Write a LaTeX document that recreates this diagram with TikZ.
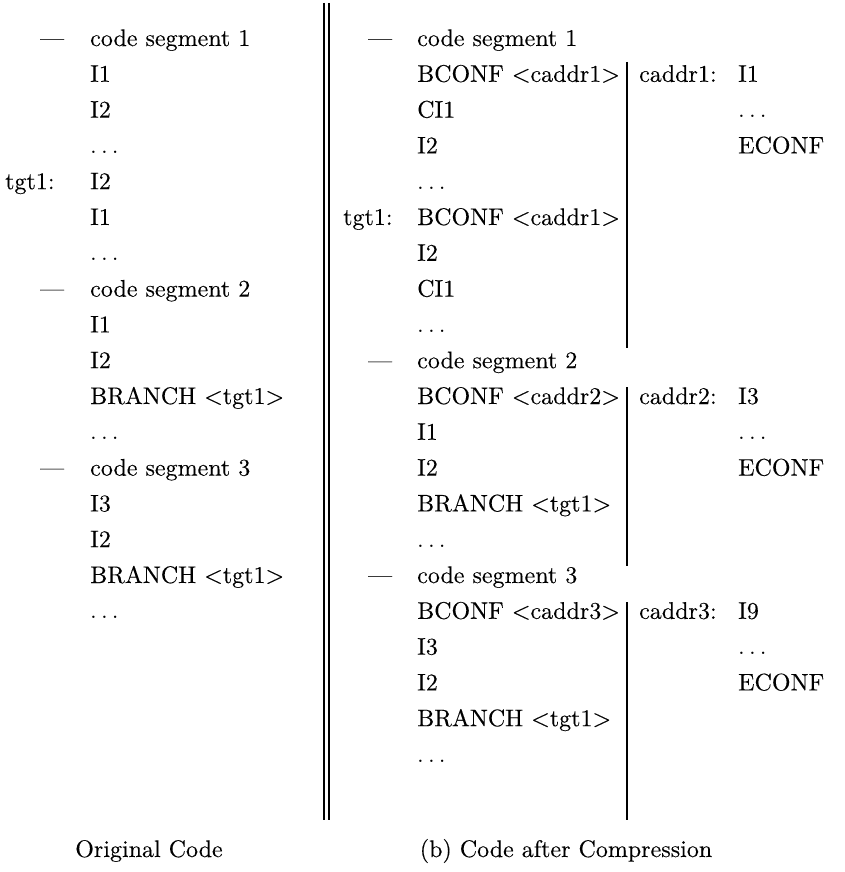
\documentclass[tikz,border=0pt]{standalone}
\usepackage{fontspec}
\setmainfont{lmroman10-regular.otf}[FakeBold=0.15]
\begin{document}
\begin{tikzpicture}[x=1pt,y=-1pt,
  txt/.style={anchor=base west, inner sep=0pt, font=\fontsize{24}{29}\selectfont},
  captxt/.style={anchor=base, inner sep=0pt, font=\fontsize{24}{29}\selectfont},
  sep/.style={line width=1.1pt}]
\useasboundingbox (0,0) rectangle (844,872);
% ---------- left column ----------
\node[txt] (ld0) at (40,46) {---};
\node[txt] (l0) at (90,46) {code segment 1};
\node[txt] (l1) at (90,81.8) {I1};
\node[txt] (l2) at (90,117.6) {I2};
\node[txt] (l3) at (90,153.4) {$\ldots$};
\node[txt] (lt) at (5,189.2) {tgt1:};
\node[txt] (l4) at (90,189.2) {I2};
\node[txt] (l5) at (90,225) {I1};
\node[txt] (l6) at (90,260.8) {$\ldots$};
\node[txt] (ld7) at (40,296.6) {---};
\node[txt] (l7) at (90,296.6) {code segment 2};
\node[txt] (l8) at (90,332.4) {I1};
\node[txt] (l9) at (90,368.2) {I2};
\node[txt] (l10) at (90,404) {BRANCH <tgt1>};
\node[txt] (l11) at (90,439.8) {$\ldots$};
\node[txt] (ld12) at (40,475.6) {---};
\node[txt] (l12) at (90,475.6) {code segment 3};
\node[txt] (l13) at (90,511.4) {I3};
\node[txt] (l14) at (90,547.2) {I2};
\node[txt] (l15) at (90,583) {BRANCH <tgt1>};
\node[txt] (l16) at (90,618.8) {$\ldots$};
\node[captxt] (lcap) at (149,857) {Original Code};
% ---------- double separator ----------
\coordinate (da1) at (324,3);
\coordinate (da2) at (324,820);
\coordinate (db1) at (329,3);
\coordinate (db2) at (329,820);
\draw[sep] (da1) -- (da2);
\draw[sep] (db1) -- (db2);
% ---------- right column ----------
\node[txt] (rd0) at (368,46) {---};
\node[txt] (r0) at (417,46) {code segment 1};
\node[txt] (r1) at (417,81.8) {BCONF <caddr1>};
\node[txt] (r2) at (417,117.6) {CI1};
\node[txt] (r3) at (417,153.4) {I2};
\node[txt] (r4) at (417,189.2) {$\ldots$};
\node[txt] (rt) at (343,225) {tgt1:};
\node[txt] (r5) at (417,225) {BCONF <caddr1>};
\node[txt] (r6) at (417,260.8) {I2};
\node[txt] (r7) at (417,296.6) {CI1};
\node[txt] (r8) at (417,332.4) {$\ldots$};
\node[txt] (rd9) at (368,368.2) {---};
\node[txt] (r9) at (417,368.2) {code segment 2};
\node[txt] (r10) at (417,404) {BCONF <caddr2>};
\node[txt] (r11) at (417,439.8) {I1};
\node[txt] (r12) at (417,475.6) {I2};
\node[txt] (r13) at (417,511.4) {BRANCH <tgt1>};
\node[txt] (r14) at (417,547.2) {$\ldots$};
\node[txt] (rd15) at (368,583) {---};
\node[txt] (r15) at (417,583) {code segment 3};
\node[txt] (r16) at (417,618.8) {BCONF <caddr3>};
\node[txt] (r17) at (417,654.6) {I3};
\node[txt] (r18) at (417,690.4) {I2};
\node[txt] (r19) at (417,726.2) {BRANCH <tgt1>};
\node[txt] (r20) at (417,762) {$\ldots$};
\node[captxt] (rcap) at (566,857) {(b) Code after Compression};
% ---------- compressed blocks ----------
\node[txt] (ca1) at (639,81.8) {caddr1:};
\node[txt] (c1a) at (738,81.8) {I1};
\node[txt] (c1b) at (738,117.6) {$\ldots$};
\node[txt] (c1c) at (738,153.4) {ECONF};
\node[txt] (ca2) at (639,404) {caddr2:};
\node[txt] (c2a) at (738,404) {I3};
\node[txt] (c2b) at (738,439.8) {$\ldots$};
\node[txt] (c2c) at (738,475.6) {ECONF};
\node[txt] (ca3) at (639,618.8) {caddr3:};
\node[txt] (c3a) at (738,618.8) {I9};
\node[txt] (c3b) at (738,654.6) {$\ldots$};
\node[txt] (c3c) at (738,690.4) {ECONF};
% ---------- single separators ----------
\coordinate (s1a) at (627,62);
\coordinate (s1b) at (627,348);
\coordinate (s2a) at (627,387);
\coordinate (s2b) at (627,566);
\coordinate (s3a) at (627,602);
\coordinate (s3b) at (627,820);
\draw[sep] (s1a) -- (s1b);
\draw[sep] (s2a) -- (s2b);
\draw[sep] (s3a) -- (s3b);
\end{tikzpicture}
\end{document}
